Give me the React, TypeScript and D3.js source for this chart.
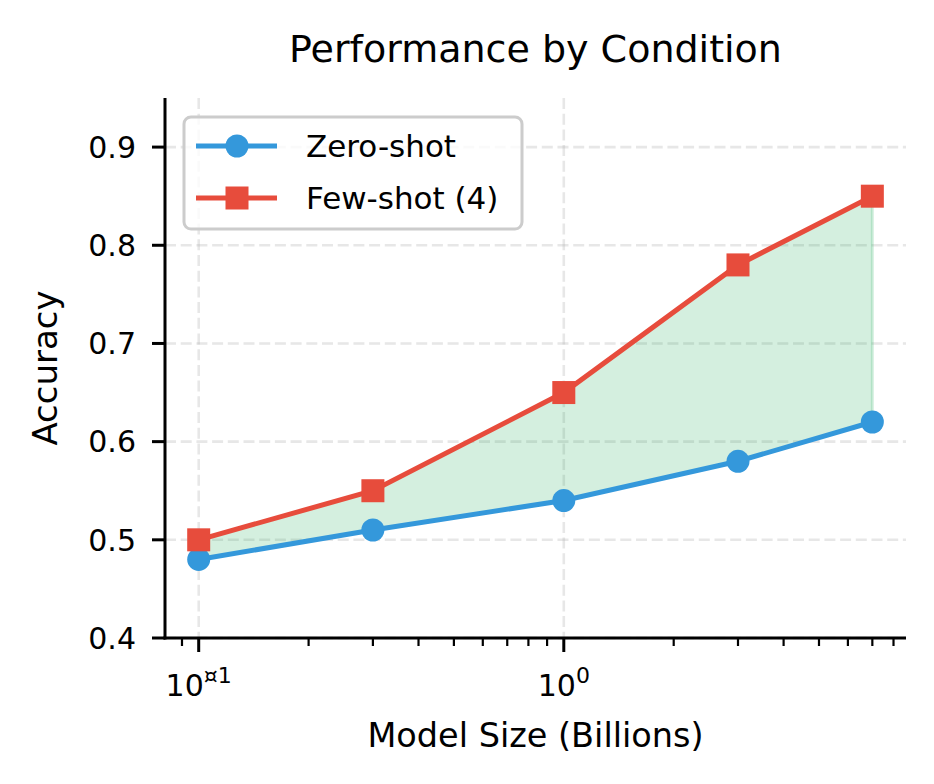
import React from 'react';
import * as d3 from 'd3';

const modelSizes = [0.1, 0.3, 1, 3, 7];
const zeroShot = [0.48, 0.51, 0.54, 0.58, 0.62];
const fewShot = [0.5, 0.55, 0.65, 0.78, 0.85];
const yTicks = [0.4, 0.5, 0.6, 0.7, 0.8, 0.9];
const xMajorTicks = [0.1, 1];
const xMinorTicks = [0.09, 0.2, 0.3, 0.4, 0.5, 0.6, 0.7, 0.8, 0.9, 2, 3, 4, 5, 6, 7, 8];
const xTickExp = ['¤1', '0'];

const BLUE = '#3498db';
const RED = '#e74c3c';
const GAP = '#27ae60';
const FONT = '"DejaVu Sans", sans-serif';

const width = 934;
const height = 784;
const margin = { top: 98, right: 28, bottom: 146, left: 165 };
const innerW = width - margin.left - margin.right;
const innerH = height - margin.top - margin.bottom;

export default function App() {
  // log x axis with matplotlib-like 5% padding in log space
  const x = d3
    .scaleLog()
    .domain([Math.pow(10, -1.0923), Math.pow(10, 0.9373)])
    .range([0, innerW]);
  const y = d3.scaleLinear().domain([0.4, 0.95]).range([innerH, 0]);

  const zeroPts = modelSizes.map((s, i) => ({ s, v: zeroShot[i] }));
  const fewPts = modelSizes.map((s, i) => ({ s, v: fewShot[i] }));

  const line = d3
    .line<{ s: number; v: number }>()
    .x(d => x(d.s))
    .y(d => y(d.v));

  const area = d3
    .area<number>()
    .x(i => x(modelSizes[i]))
    .y0(i => y(zeroShot[i]))
    .y1(i => y(fewShot[i]));

  const areaPath = area(modelSizes.map((_, i) => i)) as string;

  return (
    <svg width={width} height={height} style={{ display: 'block', margin: '-8px', fontFamily: FONT }}>
      <rect width={width} height={height} fill="#fff" />
      <text x={margin.left + innerW / 2} y={62} textAnchor="middle" fontSize={38} fill="#000">
        Performance by Condition
      </text>
      <g transform={`translate(${margin.left},${margin.top})`}>
        {/* grid */}
        {yTicks.map(t => (
          <line key={`gy${t}`} x1={0} x2={innerW} y1={y(t)} y2={y(t)} stroke="#b0b0b0" strokeOpacity={0.3} strokeWidth={2.6} strokeDasharray="11,4.7" />
        ))}
        {xMajorTicks.map(t => (
          <line key={`gx${t}`} x1={x(t)} x2={x(t)} y1={0} y2={innerH} stroke="#b0b0b0" strokeOpacity={0.3} strokeWidth={2.6} strokeDasharray="11,4.7" />
        ))}

        {/* shaded gap between conditions */}
        <path d={areaPath} fill={GAP} fillOpacity={0.2} stroke={GAP} strokeOpacity={0.2} strokeWidth={3} />

        {/* lines and markers */}
        <path d={line(zeroPts) as string} fill="none" stroke={BLUE} strokeWidth={5} />
        <path d={line(fewPts) as string} fill="none" stroke={RED} strokeWidth={5} />
        {zeroPts.map(d => (
          <circle key={`z${d.s}`} cx={x(d.s)} cy={y(d.v)} r={11.5} fill={BLUE} />
        ))}
        {fewPts.map(d => (
          <rect key={`f${d.s}`} x={x(d.s) - 11.5} y={y(d.v) - 11.5} width={23} height={23} fill={RED} />
        ))}

        {/* axes */}
        <line x1={0} x2={0} y1={0} y2={innerH + 1.5} stroke="#000" strokeWidth={3} />
        <line x1={-1.5} x2={innerW} y1={innerH} y2={innerH} stroke="#000" strokeWidth={3} />
        {yTicks.map(t => (
          <g key={`ty${t}`}>
            <line x1={-13} x2={0} y1={y(t)} y2={y(t)} stroke="#000" strokeWidth={3} />
            <text x={-29} y={y(t)} dy="0.36em" textAnchor="end" fontSize={30} fill="#000">
              {t.toFixed(1)}
            </text>
          </g>
        ))}
        {xMinorTicks.map(t => (
          <line key={`mx${t}`} x1={x(t)} x2={x(t)} y1={innerH} y2={innerH + 8} stroke="#000" strokeWidth={2.2} />
        ))}
        {xMajorTicks.map((t, i) => (
          <g key={`tx${t}`}>
            <line x1={x(t)} x2={x(t)} y1={innerH} y2={innerH + 14} stroke="#000" strokeWidth={3} />
            <text x={x(t)} y={innerH + 58} textAnchor="middle" fontSize={30} fill="#000">
              10
              <tspan dy={-13} fontSize={22}>{xTickExp[i]}</tspan>
            </text>
          </g>
        ))}
      </g>

      <text x={margin.left + innerW / 2} y={747} textAnchor="middle" fontSize={33.5} fill="#000">
        Model Size (Billions)
      </text>
      <text transform={`translate(57,${margin.top + innerH / 2}) rotate(-90)`} textAnchor="middle" fontSize={34} fill="#000">
        Accuracy
      </text>

      {/* legend */}
      <g>
        <rect x={184} y={117} width={338} height={112} rx={7} fill="#fff" fillOpacity={0.8} stroke="#cccccc" strokeWidth={3} />
        <line x1={196} x2={277} y1={146} y2={146} stroke={BLUE} strokeWidth={5} />
        <circle cx={237} cy={146} r={11.5} fill={BLUE} />
        <text x={306} y={146} dy="0.36em" fontSize={31} fill="#000">Zero-shot</text>
        <line x1={196} x2={277} y1={198} y2={198} stroke={RED} strokeWidth={5} />
        <rect x={225.5} y={186.5} width={23} height={23} fill={RED} />
        <text x={306} y={198} dy="0.36em" fontSize={31} fill="#000">Few-shot (4)</text>
      </g>
    </svg>
  );
}
